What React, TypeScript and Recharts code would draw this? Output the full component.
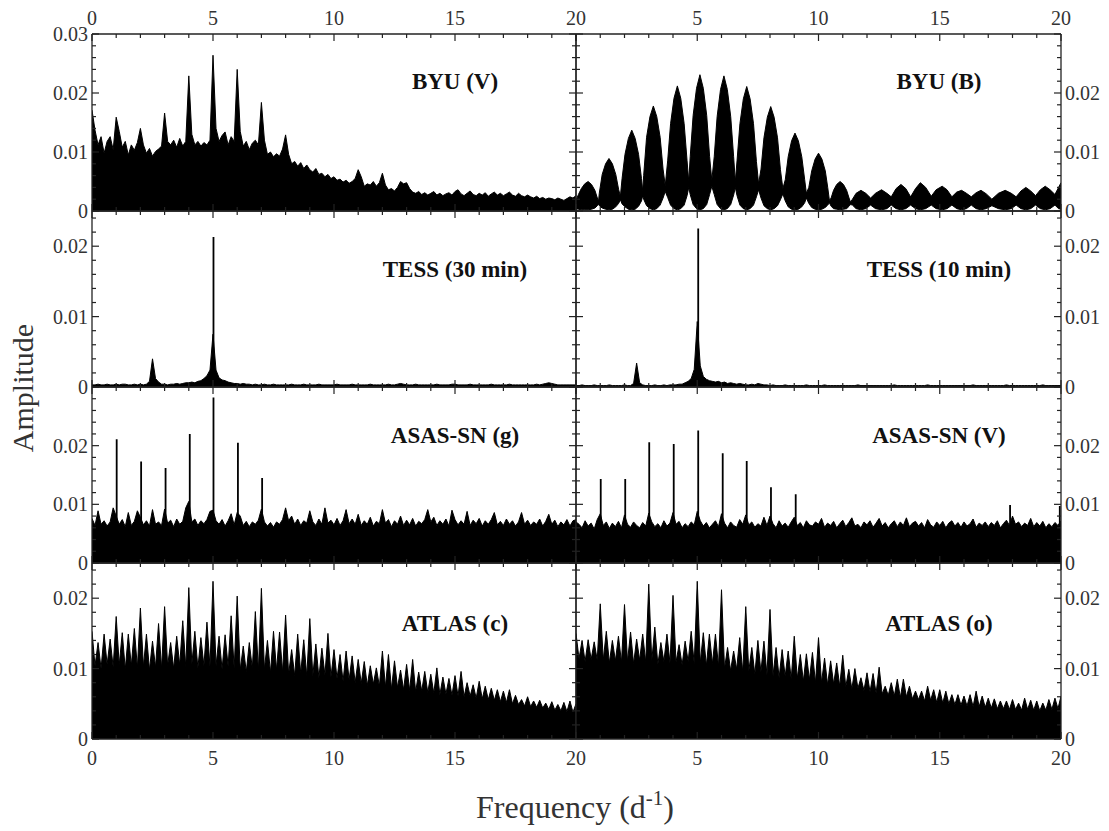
import React from "react";
import { ComposedChart, Area, Line, XAxis, YAxis } from "recharts";

// amplitude spectra, sampled every 1/8 d^-1 from 0 to 20, amplitudes in units of 1e-4
const STEP = 0.125;

const byuV = [
  171, 137, 112, 126, 98, 118, 126, 104,
  159, 135, 108, 118, 95, 112, 103, 116,
  140, 112, 98, 106, 93, 101, 105, 110,
  166, 118, 112, 120, 108, 123, 110, 118,
  229, 130, 112, 118, 110, 116, 112, 120,
  264, 140, 118, 128, 134, 112, 126, 118,
  240, 135, 110, 118, 104, 115, 120, 112,
  184, 120, 96, 100, 92, 97, 93, 105,
  129, 96, 80, 84, 76, 82, 72, 78,
  70, 66, 72, 62, 64, 58, 62, 55,
  58, 52, 54, 49, 52, 47, 50, 55,
  70, 58, 42, 46, 44, 50, 42, 48,
  64, 44, 36, 38, 34, 40, 50, 46,
  48, 38, 32, 30, 33, 28, 31, 27,
  30, 33, 27, 30, 26, 29, 31, 27,
  33, 36, 29, 26, 30, 34, 28, 26,
  30, 27, 31, 25, 29, 32, 27, 30,
  26, 29, 32, 27, 25, 30, 26, 24,
  27, 24, 22, 25, 21, 23, 20, 22,
  21, 19, 22, 20, 18, 21, 24, 22,
  26,
];

// BYU (B): [frequency, lower envelope, upper envelope] of the window lobes
const byuB: [number, number, number][] = [
  [0, 4, 18], [0.1, 3, 28], [0.22, 2, 38], [0.36, 2, 46], [0.5, 2, 50], [0.64, 3, 45], [0.78, 5, 35], [0.88, 9, 22], [0.93, 12, 17],
  [0.96, 9, 30], [1.08, 5, 62], [1.22, 3, 80], [1.36, 2, 89], [1.5, 3, 80], [1.64, 7, 62], [1.76, 13, 36], [1.83, 19, 25],
  [1.9, 12, 55], [2.02, 7, 96], [2.16, 3, 123], [2.3, 2, 137], [2.44, 3, 123], [2.58, 8, 96], [2.7, 17, 55], [2.75, 26, 34],
  [2.79, 20, 60], [2.91, 9, 125], [3.05, 4, 160], [3.19, 2, 178], [3.33, 4, 160], [3.47, 10, 125], [3.59, 22, 71], [3.68, 33, 43],
  [3.78, 23, 85], [3.9, 10, 148], [4.04, 4, 191], [4.18, 2, 212], [4.32, 4, 191], [4.46, 10, 148], [4.58, 26, 85], [4.65, 40, 50],
  [4.71, 28, 92], [4.83, 11, 162], [4.97, 4, 208], [5.11, 2, 231], [5.25, 4, 208], [5.39, 11, 162], [5.51, 28, 92], [5.6, 42, 52],
  [5.7, 28, 92], [5.82, 11, 160], [5.96, 4, 206], [6.1, 2, 229], [6.24, 4, 206], [6.38, 11, 160], [6.5, 27, 92], [6.57, 40, 50],
  [6.64, 26, 85], [6.76, 10, 148], [6.9, 4, 190], [7.04, 2, 211], [7.18, 4, 190], [7.32, 10, 148], [7.44, 24, 84], [7.53, 36, 46],
  [7.63, 22, 71], [7.75, 9, 124], [7.89, 4, 159], [8.03, 2, 177], [8.17, 4, 159], [8.31, 9, 124], [8.43, 19, 70], [8.53, 29, 38],
  [8.63, 17, 53], [8.75, 7, 92], [8.89, 3, 119], [9.03, 2, 132], [9.17, 3, 119], [9.31, 7, 92], [9.43, 14, 53], [9.5, 22, 30],
  [9.6, 13, 40], [9.72, 6, 68], [9.86, 3, 88], [10.0, 2, 98], [10.14, 3, 88], [10.28, 6, 68], [10.38, 10, 40], [10.45, 14, 18],
  [10.52, 8, 22], [10.62, 4, 35], [10.75, 3, 45], [10.89, 2, 50], [11.03, 3, 45], [11.16, 4, 35], [11.26, 8, 22], [11.32, 11, 15],
  [11.4, 10, 20], [11.55, 4, 30], [11.75, 2, 35], [11.95, 4, 30], [12.15, 10, 22], [12.35, 4, 30], [12.6, 2, 36], [12.82, 4, 30],
  [13.0, 10, 24], [13.2, 4, 38], [13.4, 2, 45], [13.6, 4, 38], [13.8, 10, 24], [14.0, 4, 38], [14.2, 2, 48], [14.42, 4, 40],
  [14.65, 10, 25], [14.85, 4, 36], [15.1, 2, 42], [15.3, 4, 36], [15.5, 10, 24], [15.7, 4, 32], [15.9, 2, 35], [16.1, 4, 30],
  [16.3, 10, 24], [16.5, 4, 31], [16.7, 2, 35], [16.92, 4, 29], [17.15, 9, 20], [17.42, 4, 30], [17.7, 2, 35], [17.95, 4, 30],
  [18.15, 10, 24], [18.35, 4, 34], [18.55, 2, 40], [18.75, 4, 34], [18.95, 10, 26], [19.15, 4, 36], [19.35, 2, 42], [19.55, 4, 36],
  [19.75, 10, 28], [19.9, 4, 40], [20.0, 3, 48],
];

const tess30 = [
  3, 3, 4, 3, 3, 4, 3, 3,
  4, 3, 4, 4, 3, 3, 4, 3,
  4, 3, 4, 8, 40, 12, 7, 4,
  4, 3, 4, 4, 5, 4, 5, 6,
  6, 7, 6, 8, 9, 12, 16, 24,
  75, 24, 13, 10, 9, 7, 6, 5,
  5, 4, 5, 4, 4, 3, 4, 3,
  3, 4, 3, 3, 4, 3, 3, 3,
  3, 3, 4, 3, 3, 3, 4, 3,
  3, 3, 3, 4, 3, 3, 3, 3,
  3, 4, 3, 3, 3, 3, 4, 3,
  3, 3, 3, 3, 4, 3, 3, 3,
  3, 3, 4, 3, 3, 4, 5, 4,
  3, 3, 3, 4, 3, 3, 3, 3,
  3, 3, 4, 3, 3, 3, 3, 4,
  4, 3, 3, 3, 3, 4, 3, 3,
  3, 3, 3, 3, 4, 3, 3, 3,
  3, 3, 4, 3, 3, 3, 3, 3,
  3, 3, 3, 4, 3, 4, 5, 6,
  5, 4, 3, 3, 3, 3, 3, 3,
  3,
];

const tess10 = [
  2, 2, 3, 2, 2, 2, 3, 2,
  2, 2, 2, 3, 2, 2, 2, 2,
  3, 2, 2, 5, 34, 6, 3, 2,
  2, 2, 3, 2, 2, 3, 2, 3,
  3, 3, 4, 4, 6, 8, 12, 25,
  93, 30, 15, 11, 9, 8, 7, 8,
  6, 7, 5, 6, 5, 4, 5, 4,
  3, 3, 4, 3, 5, 4, 3, 3,
  2, 3, 2, 2, 2, 3, 2, 2,
  2, 2, 2, 2, 3, 2, 2, 2,
  2, 2, 3, 2, 2, 2, 2, 2,
  2, 2, 2, 2, 2, 3, 2, 2,
  2, 2, 2, 2, 2, 2, 2, 2,
  2, 3, 2, 2, 2, 2, 2, 2,
  2, 2, 2, 2, 3, 2, 2, 2,
  2, 2, 2, 2, 2, 2, 2, 2,
  2, 2, 2, 3, 2, 2, 2, 2,
  2, 2, 2, 2, 2, 2, 3, 2,
  2, 2, 2, 2, 2, 2, 2, 2,
  2, 2, 3, 2, 2, 2, 2, 2,
  2,
];

const asasG = [
  76, 64, 89, 66, 72, 63, 70, 94,
  80, 66, 74, 62, 86, 64, 71, 89,
  78, 65, 72, 63, 91, 66, 70, 64,
  92, 68, 73, 62, 75, 66, 71, 94,
  105, 70, 75, 64, 72, 67, 74, 88,
  90, 72, 66, 74, 63, 72, 84, 65,
  86, 80, 64, 71, 62, 70, 66, 73,
  92, 70, 63, 69, 61, 70, 66, 74,
  94, 72, 80, 66, 75, 64, 72, 68,
  89, 70, 64, 75, 66, 94, 68, 73,
  65, 76, 64, 72, 91, 67, 75, 66,
  83, 64, 72, 66, 78, 63, 71, 67,
  91, 68, 74, 62, 72, 66, 80, 64,
  73, 65, 76, 63, 71, 67, 74, 91,
  70, 78, 64, 72, 66, 75, 63, 90,
  74, 65, 72, 66, 88, 64, 73, 67,
  76, 63, 72, 66, 74, 86, 65, 71,
  64, 75, 66, 72, 63, 70, 86, 66,
  73, 64, 70, 66, 75, 63, 71, 83,
  66, 73, 62, 70, 65, 74, 63, 72,
  74,
];

const asasV = [
  70, 66, 60, 72, 63, 68, 58, 74,
  84, 64, 70, 59, 68, 62, 71, 60,
  82, 66, 61, 70, 64, 60, 69, 63,
  85, 70, 62, 67, 60, 72, 63, 68,
  86, 66, 71, 60, 67, 62, 70, 65,
  88, 72, 63, 69, 60, 66, 72, 62,
  84, 68, 60, 70, 64, 61, 74, 66,
  82, 65, 70, 61, 67, 63, 78, 64,
  80, 67, 60, 72, 63, 68, 61, 70,
  78, 64, 69, 60, 72, 65, 63, 70,
  66, 76, 61, 68, 64, 71, 60, 67,
  73, 62, 69, 77, 63, 66, 60, 70,
  65, 72, 61, 68, 76, 63, 69, 60,
  67, 72, 62, 70, 64, 77, 62, 68,
  71, 63, 69, 60, 74, 65, 61, 70,
  64, 71, 60, 68, 72, 63, 69, 61,
  70, 63, 67, 75, 61, 68, 64, 70,
  62, 69, 64, 72, 60, 67, 73, 64,
  80, 66, 70, 62, 68, 64, 76, 62,
  69, 63, 71, 60, 67, 62, 69, 64,
  72,
];

const atlasC = [
  153, 104, 137, 100, 149, 106, 142, 102,
  174, 105, 151, 99, 149, 104, 157, 101,
  186, 103, 149, 98, 139, 102, 164, 100,
  188, 104, 137, 100, 146, 105, 168, 102,
  215, 106, 153, 101, 144, 104, 166, 103,
  224, 104, 146, 99, 148, 103, 175, 100,
  203, 98, 132, 95, 137, 100, 181, 97,
  214, 99, 140, 94, 153, 98, 152, 95,
  176, 92, 127, 90, 149, 93, 141, 89,
  171, 90, 135, 87, 129, 91, 150, 88,
  127, 86, 120, 82, 125, 84, 118, 80,
  113, 79, 110, 76, 104, 78, 101, 75,
  125, 74, 120, 71, 111, 73, 98, 70,
  106, 69, 113, 67, 95, 68, 96, 66,
  92, 65, 101, 63, 88, 64, 86, 62,
  90, 61, 96, 60, 80, 61, 77, 58,
  82, 57, 75, 56, 72, 55, 70, 53,
  68, 52, 70, 50, 62, 49, 56, 47,
  60, 46, 54, 45, 55, 44, 51, 42,
  53, 41, 49, 40, 52, 39, 54, 38,
  50,
];

const atlasO = [
  150, 114, 140, 110, 141, 113, 138, 112,
  192, 112, 153, 108, 140, 111, 146, 109,
  191, 110, 152, 107, 142, 112, 149, 109,
  220, 111, 159, 106, 137, 110, 149, 108,
  204, 109, 134, 105, 139, 110, 153, 107,
  224, 108, 151, 104, 149, 107, 149, 103,
  212, 100, 130, 97, 125, 99, 144, 95,
  188, 96, 130, 92, 140, 95, 139, 91,
  184, 90, 130, 87, 127, 89, 125, 85,
  146, 86, 120, 82, 121, 84, 123, 80,
  144, 80, 115, 77, 111, 78, 108, 75,
  119, 74, 99, 71, 100, 72, 87, 69,
  94, 67, 93, 65, 102, 64, 75, 62,
  80, 61, 85, 59, 85, 60, 75, 57,
  68, 56, 68, 54, 75, 55, 70, 52,
  70, 51, 68, 50, 63, 49, 63, 48,
  61, 47, 63, 46, 68, 46, 61, 45,
  58, 44, 57, 43, 54, 43, 54, 42,
  56, 42, 51, 41, 58, 42, 55, 41,
  54, 40, 51, 41, 56, 42, 58, 43,
  61,
];

// narrow peaks drawn as vertical lines: [frequency, amplitude]
const tess30Peaks: [number, number][] = [[5.02, 213]];
const tess10Peaks: [number, number][] = [[5.04, 225]];
const asasGPeaks: [number, number][] = [
  [1.02, 211], [2.03, 173], [3.04, 162], [4.04, 220], [5.02, 282], [6.03, 205], [7.03, 145],
];
const asasVPeaks: [number, number][] = [
  [1.02, 143], [2.03, 143], [3.02, 206], [4.03, 203], [5.04, 226], [6.05, 187],
  [7.04, 174], [8.04, 129], [9.06, 117], [17.9, 99], [19.95, 97],
];

const X_TICKS = [0, 1, 2, 3, 4, 5, 6, 7, 8, 9, 10, 11, 12, 13, 14, 15, 16, 17, 18, 19, 20];
const Y_TICKS_30 = [0, 20, 40, 60, 80, 100, 120, 140, 160, 180, 200, 220, 240, 260, 280, 300];
const Y_TICKS_25 = [0, 20, 40, 60, 80, 100, 120, 140, 160, 180, 200, 220, 240];

const FONT = "'Liberation Serif', 'Times New Roman', Times, serif";
const AXIS = "#222";
const LABEL = "#333";
const AXW = 60;
const AXH = 40;

const COLS = [
  { x: 92, w: 484 },
  { x: 576, w: 485 },
];
const ROWS = [
  { y: 34, h: 177, max: 300, titleDy: 55 },
  { y: 211, h: 176, max: 250, titleDy: 66 },
  { y: 387, h: 176, max: 300, titleDy: 56 },
  { y: 563, h: 176, max: 250, titleDy: 68 },
];

type PanelDef = {
  row: number;
  col: number;
  title: string;
  amps?: number[];
  band?: [number, number, number][];
  peaks?: [number, number][];
};

const PANELS: PanelDef[] = [
  { row: 0, col: 0, title: "BYU (V)", amps: byuV },
  { row: 0, col: 1, title: "BYU (B)", band: byuB },
  { row: 1, col: 0, title: "TESS (30 min)", amps: tess30, peaks: tess30Peaks },
  { row: 1, col: 1, title: "TESS (10 min)", amps: tess10, peaks: tess10Peaks },
  { row: 2, col: 0, title: "ASAS-SN (g)", amps: asasG, peaks: asasGPeaks },
  { row: 2, col: 1, title: "ASAS-SN (V)", amps: asasV, peaks: asasVPeaks },
  { row: 3, col: 0, title: "ATLAS (c)", amps: atlasC },
  { row: 3, col: 1, title: "ATLAS (o)", amps: atlasO },
];

const labelStyle = { fontFamily: FONT, fontSize: 20, fill: LABEL };

// eslint-disable-next-line @typescript-eslint/no-explicit-any
const xTick = (edge: "top" | "bottom", labels: boolean, skipZero: boolean) => (p: any) => {
  const v = p.payload.value;
  const major = v % 5 === 0;
  const dir = edge === "bottom" ? -1 : 1;
  const showLabel = labels && major && !(skipZero && v === 0);
  return (
    <g>
      <line x1={p.x} x2={p.x} y1={p.y} y2={p.y + dir * (major ? 7 : 4)} stroke={AXIS} strokeWidth={1.2} />
      {showLabel && (
        <text
          x={p.x}
          y={edge === "bottom" ? p.y + 26 : p.y - 9}
          textAnchor="middle"
          style={labelStyle}
        >
          {v}
        </text>
      )}
    </g>
  );
};

// eslint-disable-next-line @typescript-eslint/no-explicit-any
const yTick = (edge: "left" | "right", labelled: number[]) => (p: any) => {
  const v = p.payload.value;
  const major = v % 100 === 0;
  const dir = edge === "left" ? 1 : -1;
  return (
    <g>
      <line x1={p.x} x2={p.x + dir * (major ? 7 : 4)} y1={p.y} y2={p.y} stroke={AXIS} strokeWidth={1.2} />
      {labelled.includes(v) && (
        <text
          x={p.x - dir * 4}
          y={p.y}
          dy="0.35em"
          textAnchor={edge === "left" ? "end" : "start"}
          style={labelStyle}
        >
          {v / 10000}
        </text>
      )}
    </g>
  );
};

function Panel({ def }: { def: PanelDef }) {
  const col = COLS[def.col];
  const row = ROWS[def.row];
  const rows = def.band
    ? def.band.map(([f, lo, hi]) => ({ f, range: [lo, hi] }))
    : (def.amps ?? []).map((a, i) => ({ f: i * STEP, a }));
  const peakRows = (def.peaks ?? []).flatMap(([f, a]) => [
    { f, a: 0 },
    { f, a },
    { f, a: 0 },
  ]);
  const yTicks = row.max === 300 ? Y_TICKS_30 : Y_TICKS_25;
  const labelled = def.row === 0 && def.col === 0 ? [0, 100, 200, 300] : [0, 100, 200];
  const axisLine = { stroke: AXIS, strokeWidth: 1.3 };

  return (
    <div style={{ position: "absolute", left: col.x - AXW, top: row.y - AXH }}>
      <ComposedChart
        width={col.w + 2 * AXW}
        height={row.h + 2 * AXH}
        data={rows}
        margin={{ top: 0, right: 0, bottom: 0, left: 0 }}
      >
        <XAxis
          xAxisId="b"
          dataKey="f"
          type="number"
          domain={[0, 20]}
          allowDataOverflow
          ticks={X_TICKS}
          interval={0}
          height={AXH}
          tickSize={0}
          tickMargin={0}
          tickLine={false}
          axisLine={axisLine}
          tick={xTick("bottom", def.row === 3, def.col === 1)}
        />
        <XAxis
          xAxisId="t"
          orientation="top"
          dataKey="f"
          type="number"
          domain={[0, 20]}
          allowDataOverflow
          ticks={X_TICKS}
          interval={0}
          height={AXH}
          tickSize={0}
          tickMargin={0}
          tickLine={false}
          axisLine={axisLine}
          tick={xTick("top", def.row === 0, def.col === 1)}
        />
        <YAxis
          yAxisId="l"
          type="number"
          domain={[0, row.max]}
          allowDataOverflow
          ticks={yTicks}
          interval={0}
          width={AXW}
          tickSize={0}
          tickMargin={0}
          tickLine={false}
          axisLine={axisLine}
          tick={yTick("left", def.col === 0 ? labelled : [])}
        />
        <YAxis
          yAxisId="r"
          orientation="right"
          type="number"
          domain={[0, row.max]}
          allowDataOverflow
          ticks={yTicks}
          interval={0}
          width={AXW}
          tickSize={0}
          tickMargin={0}
          tickLine={false}
          axisLine={axisLine}
          tick={yTick("right", def.col === 1 ? labelled : [])}
        />
        <Area
          xAxisId="b"
          yAxisId="l"
          type="linear"
          dataKey={def.band ? "range" : "a"}
          stroke="#000"
          strokeWidth={1}
          fill="#000"
          fillOpacity={1}
          dot={false}
          activeDot={false}
          isAnimationActive={false}
        />
        {peakRows.length > 0 && (
          <Line
            xAxisId="b"
            yAxisId="l"
            data={peakRows}
            type="linear"
            dataKey="a"
            stroke="#000"
            strokeWidth={1.8}
            dot={false}
            activeDot={false}
            isAnimationActive={false}
          />
        )}
      </ComposedChart>
    </div>
  );
}

export default function App() {
  return (
    <div
      style={{
        position: "absolute",
        left: 0,
        top: 0,
        width: 1109,
        height: 831,
        background: "#fff",
        fontFamily: FONT,
      }}
    >
      {PANELS.map((p) => (
        <Panel key={p.title} def={p} />
      ))}
      <svg
        width={1109}
        height={831}
        style={{ position: "absolute", left: 0, top: 0, pointerEvents: "none" }}
      >
        {PANELS.map((p) => (
          <text
            key={p.title}
            x={COLS[p.col].x + 363}
            y={ROWS[p.row].y + ROWS[p.row].titleDy}
            textAnchor="middle"
            style={{ fontFamily: FONT, fontWeight: "bold", fontSize: 23, fill: "#111" }}
          >
            {p.title}
          </text>
        ))}
        <text
          transform="translate(33 388) rotate(-90)"
          textAnchor="middle"
          style={{ fontFamily: FONT, fontSize: 30, fill: LABEL }}
        >
          Amplitude
        </text>
        <text x={575} y={818} textAnchor="middle" style={{ fontFamily: FONT, fontSize: 32, fill: LABEL }}>
          Frequency (d
          <tspan style={{ fontSize: 21 }} dy={-13}>
            -1
          </tspan>
          <tspan dy={13}>)</tspan>
        </text>
      </svg>
    </div>
  );
}
